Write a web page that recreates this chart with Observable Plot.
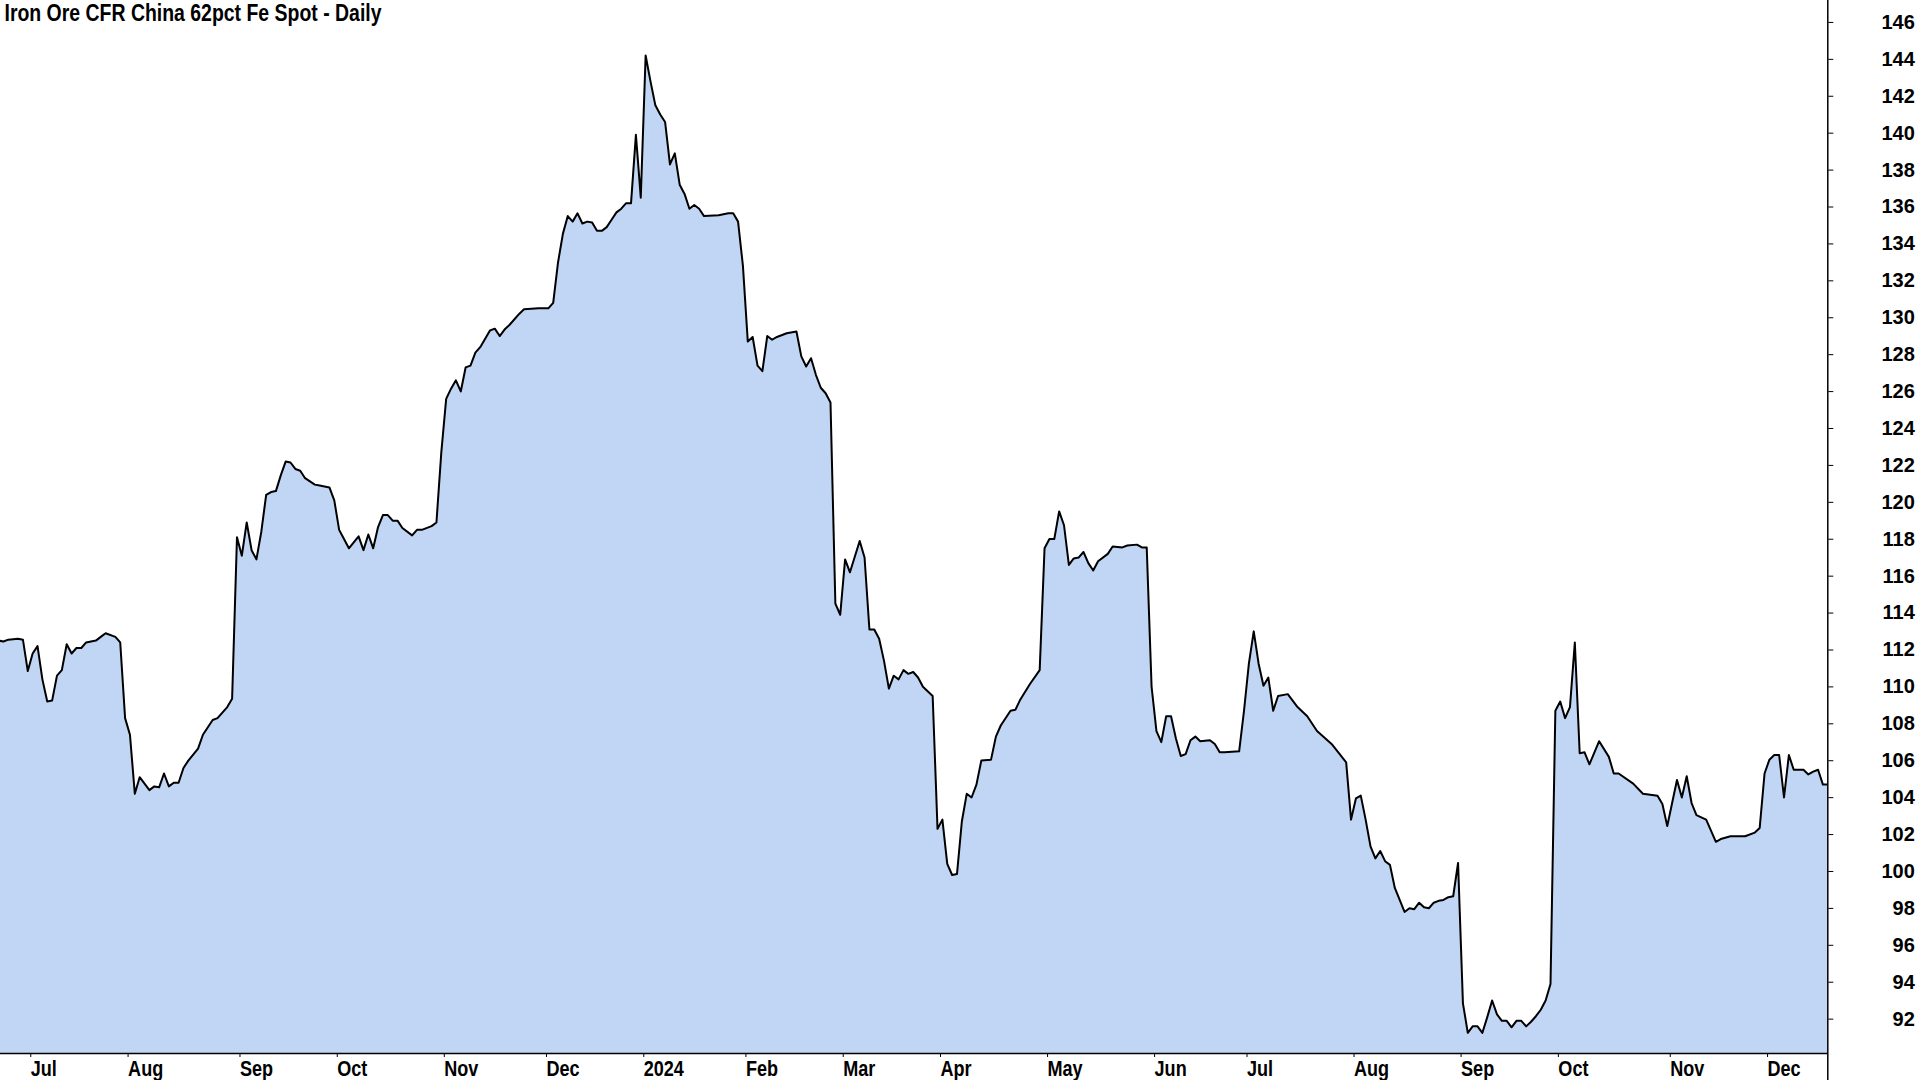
<!DOCTYPE html>
<html><head><meta charset="utf-8">
<script src="https://cdn.jsdelivr.net/npm/d3@7"></script>
<script src="https://cdn.jsdelivr.net/npm/@observablehq/plot@0.6"></script>
<style>
html,body{margin:0;padding:0;background:#fff;overflow:hidden;}
#chart{width:1920px;height:1080px;}
</style></head><body><div id="chart"></div>
<script>
const title = "Iron Ore CFR China 62pct Fe Spot - Daily";

const dates = [
"2023-06-23","2023-06-26","2023-06-27","2023-06-29","2023-06-30","2023-07-03","2023-07-05","2023-07-06","2023-07-07","2023-07-10",
"2023-07-11","2023-07-12","2023-07-13","2023-07-14","2023-07-17","2023-07-18","2023-07-19","2023-07-20","2023-07-24","2023-07-25",
"2023-07-26","2023-07-28","2023-07-31","2023-08-01","2023-08-02","2023-08-03","2023-08-04","2023-08-08","2023-08-09","2023-08-10",
"2023-08-11","2023-08-14","2023-08-15","2023-08-16","2023-08-17","2023-08-18","2023-08-22","2023-08-23","2023-08-25","2023-08-28",
"2023-08-30","2023-08-31","2023-09-01","2023-09-05","2023-09-06","2023-09-07","2023-09-08","2023-09-11","2023-09-12","2023-09-13",
"2023-09-14","2023-09-15","2023-09-18","2023-09-19","2023-09-20","2023-09-21","2023-09-22","2023-09-26","2023-09-27","2023-09-29",
"2023-10-02","2023-10-03","2023-10-04","2023-10-05","2023-10-09","2023-10-10","2023-10-11","2023-10-12","2023-10-13","2023-10-16",
"2023-10-17","2023-10-18","2023-10-19","2023-10-20","2023-10-24","2023-10-25","2023-10-26","2023-10-30","2023-10-31","2023-11-01",
"2023-11-02","2023-11-03","2023-11-06","2023-11-07","2023-11-08","2023-11-09","2023-11-10","2023-11-13","2023-11-15","2023-11-16",
"2023-11-17","2023-11-20","2023-11-21","2023-11-24","2023-11-27","2023-11-30","2023-12-04","2023-12-05","2023-12-06","2023-12-07",
"2023-12-08","2023-12-11","2023-12-12","2023-12-13","2023-12-14","2023-12-15","2023-12-18","2023-12-19","2023-12-20","2023-12-21",
"2023-12-22","2023-12-26","2023-12-27","2023-12-28","2023-12-29","2024-01-02","2024-01-03","2024-01-04","2024-01-05","2024-01-08",
"2024-01-09","2024-01-10","2024-01-11","2024-01-12","2024-01-16","2024-01-17","2024-01-18","2024-01-19","2024-01-22","2024-01-25",
"2024-01-29","2024-01-30","2024-01-31","2024-02-01","2024-02-02","2024-02-05","2024-02-06","2024-02-07","2024-02-08","2024-02-09",
"2024-02-12","2024-02-14","2024-02-16","2024-02-20","2024-02-21","2024-02-22","2024-02-23","2024-02-26","2024-02-27","2024-02-28",
"2024-02-29","2024-03-01","2024-03-04","2024-03-05","2024-03-07","2024-03-08","2024-03-11","2024-03-12","2024-03-13","2024-03-14",
"2024-03-15","2024-03-18","2024-03-19","2024-03-20","2024-03-21","2024-03-22","2024-03-25","2024-03-26","2024-03-28","2024-04-01",
"2024-04-02","2024-04-03","2024-04-04","2024-04-05","2024-04-08","2024-04-09","2024-04-10","2024-04-11","2024-04-12","2024-04-16",
"2024-04-17","2024-04-18","2024-04-22","2024-04-23","2024-04-24","2024-04-26","2024-04-30","2024-05-01","2024-05-02","2024-05-03",
"2024-05-06","2024-05-07","2024-05-08","2024-05-09","2024-05-10","2024-05-13","2024-05-14","2024-05-15","2024-05-16","2024-05-20",
"2024-05-21","2024-05-23","2024-05-24","2024-05-29","2024-05-30","2024-05-31","2024-06-03","2024-06-04","2024-06-05","2024-06-06",
"2024-06-07","2024-06-10","2024-06-11","2024-06-12","2024-06-13","2024-06-14","2024-06-17","2024-06-20","2024-06-21","2024-06-24",
"2024-06-25","2024-06-28","2024-07-01","2024-07-02","2024-07-03","2024-07-05","2024-07-08","2024-07-09","2024-07-10","2024-07-11",
"2024-07-15","2024-07-17","2024-07-19","2024-07-23","2024-07-26","2024-07-31","2024-08-01","2024-08-02","2024-08-05","2024-08-06",
"2024-08-07","2024-08-08","2024-08-09","2024-08-12","2024-08-13","2024-08-14","2024-08-16","2024-08-19","2024-08-20","2024-08-21",
"2024-08-22","2024-08-23","2024-08-26","2024-08-27","2024-08-28","2024-08-29","2024-08-30","2024-09-03","2024-09-04","2024-09-05",
"2024-09-06","2024-09-09","2024-09-10","2024-09-11","2024-09-12","2024-09-13","2024-09-16","2024-09-17","2024-09-18","2024-09-19",
"2024-09-20","2024-09-23","2024-09-24","2024-09-25","2024-09-26","2024-09-27","2024-09-30","2024-10-01","2024-10-02","2024-10-03",
"2024-10-04","2024-10-07","2024-10-08","2024-10-09","2024-10-10","2024-10-14","2024-10-16","2024-10-17","2024-10-18","2024-10-23",
"2024-10-25","2024-10-30","2024-10-31","2024-11-01","2024-11-04","2024-11-05","2024-11-06","2024-11-07","2024-11-08","2024-11-11",
"2024-11-13","2024-11-15","2024-11-18","2024-11-20","2024-11-25","2024-11-27","2024-11-29","2024-12-02","2024-12-03","2024-12-04",
"2024-12-05","2024-12-06","2024-12-09","2024-12-10","2024-12-12","2024-12-13","2024-12-16","2024-12-17","2024-12-18","2024-12-19"
];

const values = [
112.4,112.35,112.45,112.5,112.45,110.75,111.7,112.1,110.3,109.1,
109.15,110.5,110.8,112.2,111.7,112.0,112.0,112.3,112.4,112.6,
112.8,112.6,112.3,108.2,107.3,104.1,105.0,104.3,104.5,104.45,
105.2,104.5,104.7,104.7,105.5,105.9,106.55,107.3,108.1,108.2,
108.8,109.25,118.0,117.0,118.8,117.3,116.8,118.3,120.3,120.45,
120.5,121.35,122.1,122.05,121.7,121.6,121.2,120.85,120.8,120.7,
120.0,118.4,117.9,117.4,118.05,117.3,118.15,117.4,118.55,119.2,
119.2,118.9,118.9,118.5,118.1,118.4,118.4,118.6,118.8,122.6,
125.5,126.05,126.5,125.9,127.2,127.3,128.0,128.3,129.2,129.3,
128.9,129.25,129.5,130.1,130.35,130.4,130.4,130.7,132.9,134.45,
135.4,135.1,135.55,135.0,135.1,135.05,134.6,134.6,134.8,135.2,
135.6,135.8,136.1,136.1,139.8,136.4,144.1,142.7,141.4,140.9,
140.5,138.2,138.8,137.1,136.6,135.8,136.0,135.8,135.4,135.45,
135.55,135.55,135.1,132.7,128.6,128.85,127.3,127.0,128.9,128.7,
128.85,129.05,129.15,127.8,127.25,127.7,126.8,126.1,125.8,125.3,
114.4,113.8,116.8,116.1,117.8,116.9,113.0,113.0,112.5,111.3,
109.8,110.5,110.3,110.8,110.6,110.7,110.4,109.9,109.4,102.2,
102.7,100.3,99.7,99.75,102.6,104.1,103.9,104.6,105.9,105.95,
107.2,107.8,108.6,108.65,109.2,110.05,110.8,117.4,117.9,117.9,
119.4,118.65,116.5,116.85,116.9,117.2,116.6,116.2,116.7,117.1,
117.5,117.45,117.55,117.6,117.45,117.45,109.9,107.5,106.9,108.3,
108.3,107.1,106.15,106.25,107.0,107.2,106.95,107.0,106.8,106.35,
106.35,106.4,108.6,111.15,112.9,111.15,109.95,110.4,108.6,109.4,
109.5,108.8,108.3,107.5,106.8,105.8,102.7,103.85,104.0,102.7,
101.25,100.6,101.0,100.45,100.25,99.0,97.7,97.9,97.85,98.2,
97.95,97.9,98.2,98.3,98.35,98.5,98.55,100.35,92.75,91.15,
91.5,91.5,91.15,92.0,92.9,92.15,91.8,91.8,91.45,91.8,
91.8,91.5,91.75,92.05,92.4,92.9,93.8,108.6,109.1,108.2,
108.8,112.3,106.3,106.35,105.7,106.95,106.1,105.2,105.2,104.65,
104.1,104.0,103.55,102.35,103.6,104.85,103.9,105.05,103.6,102.95,
102.7,101.5,101.65,101.8,101.8,102.0,102.25,105.2,105.95,106.2,
106.2,103.9,106.2,105.4,105.4,105.15,105.3,105.4,104.6,104.6
];

const holidays = ["2023-07-04","2023-09-04","2023-11-23","2023-12-25","2024-01-01","2024-01-15","2024-02-19",
  "2024-03-29","2024-05-27","2024-06-19","2024-07-04","2024-09-02","2024-11-28","2024-12-25"];
const monthStarts = ["2023-07","2023-08","2023-09","2023-10","2023-11","2023-12","2024-01","2024-02","2024-03",
  "2024-04","2024-05","2024-06","2024-07","2024-08","2024-09","2024-10","2024-11","2024-12"];
const monthLabels = ["Jul","Aug","Sep","Oct","Nov","Dec","2024","Feb","Mar","Apr","May","Jun","Jul","Aug","Sep","Oct","Nov","Dec"];
const yTicks = [92,94,96,98,100,102,104,106,108,110,112,114,116,118,120,122,124,126,128,130,132,134,136,138,140,142,144,146];

// trading-day calendar (weekdays minus market holidays), x is trading-day index
const fmt = d3.utcFormat("%Y-%m-%d");
const hol = new Set(holidays);
const days = d3.utcDays(new Date(Date.UTC(2023, 5, 19)), new Date(Date.UTC(2025, 0, 1)))
  .filter(d => d.getUTCDay() % 6 !== 0 && !hol.has(fmt(d)));
const origin = days.findIndex(d => fmt(d) === "2023-07-03");
const idxOf = new Map(days.map((d, i) => [fmt(d), i - origin]));
const data = dates.map((d, i) => ({t: idxOf.get(d), v: values[i]}));
const tickIdx = monthStarts.map(m => days.findIndex(d => fmt(d).startsWith(m)) - origin);

const yMin = 90.03, yMax = 147.08;
const xMin = -5.61, xMax = idxOf.get("2024-12-19");
const font = "'Liberation Sans',Arial,sans-serif";

const chart = Plot.plot({
  width: 1920, height: 1080,
  marginLeft: 0, marginRight: 92.7, marginTop: 0, marginBottom: 27,
  style: {fontFamily: font, fontWeight: "bold", fontSize: "22px", color: "#000", background: "#fff"},
  x: {type: "linear", domain: [xMin, xMax]},
  y: {domain: [yMin, yMax]},
  marks: [
    Plot.areaY(data, {x: "t", y1: yMin, y2: "v", fill: "#c1d6f4", clip: true}),
    Plot.lineY(data, {x: "t", y: "v", stroke: "#000", strokeWidth: 2, clip: true}),
    Plot.ruleY([yMin], {stroke: "#000", strokeWidth: 1.5}),
    Plot.ruleX([xMax], {y1: yMin - 1.6, y2: yMax, stroke: "#000", strokeWidth: 1.5}),
    Plot.axisX({ticks: tickIdx, tickFormat: d => monthLabels[tickIdx.indexOf(d)], tickSize: 4, tickPadding: 3,
      textAnchor: "start", dx: 3, fontSize: 22, label: null}),
    Plot.axisY({anchor: "right", ticks: yTicks, tickSize: 5, tickPadding: 82, textAnchor: "end", dy: 2,
      fontSize: 20, label: null}),
    Plot.text([title], {frameAnchor: "top-left", dx: 4, dy: 3, lineAnchor: "top", textAnchor: "start",
      fontSize: 24, fontWeight: "bold"})
  ]
});
document.getElementById("chart").append(chart);

// condensed look of the original lettering (narrow bold face)
function condense(els, k) {
  els.forEach(el => {
    const w = el.getComputedTextLength();
    el.setAttribute("textLength", (w * k).toFixed(1));
    el.setAttribute("lengthAdjust", "spacingAndGlyphs");
  });
}
const allText = Array.from(chart.querySelectorAll("text"));
condense(allText.filter(el => monthLabels.includes(el.textContent)), 0.82);
condense(allText.filter(el => el.textContent === title), 0.81);
</script>
</body></html>
